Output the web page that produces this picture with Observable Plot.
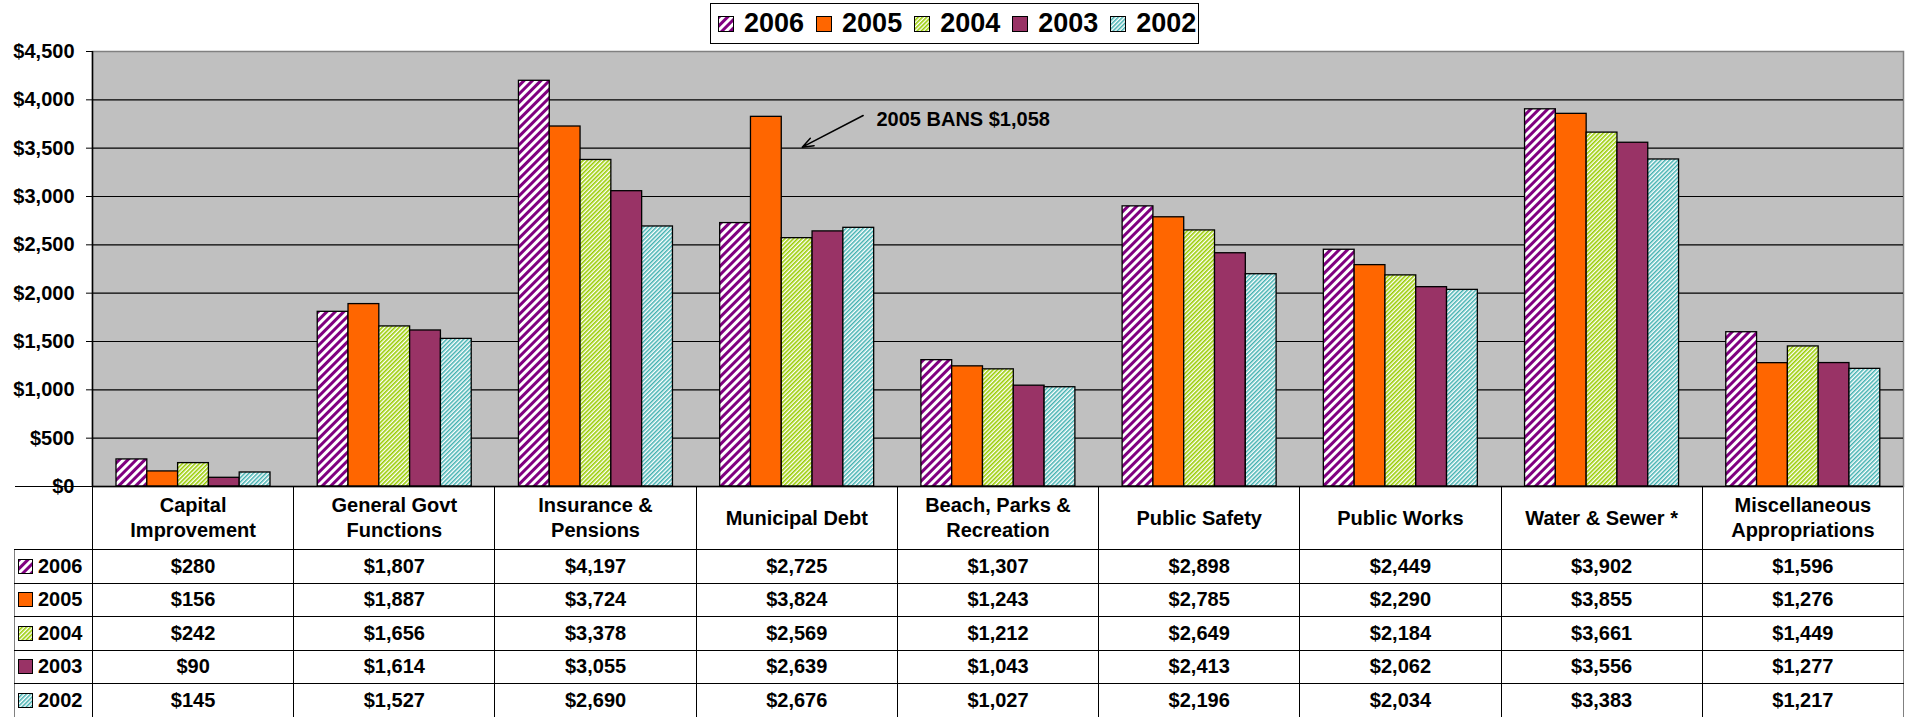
<!DOCTYPE html>
<html><head><meta charset="utf-8">
<script src="https://cdn.jsdelivr.net/npm/d3@7"></script>
<script src="https://cdn.jsdelivr.net/npm/@observablehq/plot@0.6"></script>
<style>
body{margin:0;background:#fff;font-family:"Liberation Sans",Arial,sans-serif;font-weight:bold;color:#000}
#wrap{position:relative;width:1908px;height:717px;overflow:hidden}
#chart{position:absolute;left:0;top:0}
#legend{position:absolute;left:710px;top:3px;width:489px;height:41px;border:1px solid #000;box-sizing:border-box;display:flex;align-items:center;padding-left:7px;background:#fff}
#legend .it{display:flex;align-items:center;margin-right:12px;font-size:27px;line-height:1}
#legend .it svg{margin-right:10px}
#tbl{position:absolute;left:14px;top:486px;border-collapse:collapse;table-layout:fixed;width:1889px}
#tbl td{border:1px solid #000;text-align:center;padding:0;font-size:20px;font-weight:bold;height:32.5px;white-space:pre-line;line-height:25px}
#tbl tr.hdr td{height:62px;border-top:1px solid #000}
#tbl td.blank{border-top:none;border-left:none;border-bottom:1px solid #000}
#tbl td.yr{text-align:left;padding-left:3px;border-left:1px solid #808080}
#tbl td.yr svg{vertical-align:-1px;margin-right:5px}
#tbl td:last-child{border-right:1px solid #808080}
</style>
</head><body>
<svg width="0" height="0" style="position:absolute">
  <defs>
    <pattern id="p2006" patternUnits="userSpaceOnUse" width="6" height="6" patternTransform="rotate(45)">
      <rect width="6" height="6" fill="#fff"/><rect width="3" height="6" fill="#800080"/>
    </pattern>
    <pattern id="p2004" patternUnits="userSpaceOnUse" width="3" height="3" patternTransform="rotate(45)">
      <rect width="3" height="3" fill="#fff"/><rect width="1.6" height="3" fill="#99cc00"/>
    </pattern>
    <pattern id="p2002" patternUnits="userSpaceOnUse" width="3" height="3" patternTransform="rotate(45)">
      <rect width="3" height="3" fill="#fff"/><rect width="1.5" height="3" fill="#40b0b0"/>
    </pattern>
  </defs>
</svg>
<div id="wrap">
  <div id="chart"></div>
  <div id="legend"></div>
  <table id="tbl"></table>
</div>
<script>
const categories = ["Capital\nImprovement", "General Govt\nFunctions", "Insurance &\nPensions", "Municipal Debt", "Beach, Parks &\nRecreation", "Public Safety", "Public Works", "Water & Sewer *", "Miscellaneous\nAppropriations"];
const years = ["2006", "2005", "2004", "2003", "2002"];
const v2006 = [280, 1807, 4197, 2725, 1307, 2898, 2449, 3902, 1596];
const v2005 = [156, 1887, 3724, 3824, 1243, 2785, 2290, 3855, 1276];
const v2004 = [242, 1656, 3378, 2569, 1212, 2649, 2184, 3661, 1449];
const v2003 = [90, 1614, 3055, 2639, 1043, 2413, 2062, 3556, 1277];
const v2002 = [145, 1527, 2690, 2676, 1027, 2196, 2034, 3383, 1217];
const yTicks = [0, 500, 1000, 1500, 2000, 2500, 3000, 3500, 4000, 4500];
const annotation = [{label: "2005 BANS $1,058", x: 3.896, y: 3800, ax1: 3.83, ay1: 3838, ax2: 3.527, ay2: 3510}];

const series = [v2006, v2005, v2004, v2003, v2002];
const fills = ["url(#p2006)", "#ff6600", "url(#p2004)", "#993366", "url(#p2002)"];

const W = 1908, mL = 92, mR = 5;
const band = (W - mL - mR) / categories.length;
const barW = 30.8, padL = 24;

const barMarks = series.map((vals, j) => Plot.rect(categories, {
  x1: (d, i) => i, x2: (d, i) => i + 1,
  y1: () => 0, y2: (d, i) => vals[i],
  insetLeft: padL + barW * j, insetRight: band - padL - barW * (j + 1),
  fill: fills[j], stroke: "#000", strokeWidth: 1.3
}));

const chart = Plot.plot({
  width: W, height: 497,
  marginLeft: mL, marginRight: mR, marginTop: 51, marginBottom: 11,
  x: {domain: [0, categories.length], axis: null},
  y: {domain: [0, 4500], axis: null},
  style: {fontFamily: "Liberation Sans, Arial, sans-serif", fontSize: "20px", fontWeight: "bold", color: "#000", background: "transparent"},
  marks: [
    Plot.frame({fill: "#c0c0c0", stroke: "#808080", strokeWidth: 1.5}),
    Plot.ruleY(yTicks.filter(t => t > 0 && t < 4500), {stroke: "#000", strokeWidth: 1.2}),
    ...barMarks,
    Plot.ruleY([0], {stroke: "#000", strokeWidth: 1.5}),
    Plot.ruleX([0], {stroke: "#000", strokeWidth: 1.5}),
    Plot.axisY({ticks: yTicks, tickFormat: d3.format("$,"), tickSize: 6, tickPadding: 12, label: null, fontSize: 20, fontWeight: "bold", stroke: "#000"}),
    Plot.arrow(annotation, {x1: "ax1", y1: "ay1", x2: "ax2", y2: "ay2", stroke: "#000", strokeWidth: 1.5, headLength: 12, headAngle: 40}),
    Plot.text(annotation, {x: "x", y: "y", text: "label", textAnchor: "start", fontSize: 20, fontWeight: "bold", fill: "#000"})
  ]
});
document.getElementById("chart").appendChild(chart);

// legend
const sw = f => `<svg width="16" height="16"><rect x="0.5" y="0.5" width="15" height="15" fill="${f}" stroke="#000" stroke-width="1"/></svg>`;
document.getElementById("legend").innerHTML = years.map((y, j) => `<div class="it">${sw(fills[j])}<span>${y}</span></div>`).join("");

// data table
const fmt = d3.format("$,");
const esc = s => s.replace(/&/g, "&amp;");
let html = `<colgroup><col style="width:78px">` + categories.map(() => `<col style="width:${band}px">`).join("") + `</colgroup>`;
html += `<tr class="hdr"><td class="blank"></td>` + categories.map(c => `<td>${esc(c)}</td>`).join("") + `</tr>`;
years.forEach((y, j) => {
  html += `<tr><td class="yr"><svg width="15" height="15"><rect x="0.5" y="0.5" width="14" height="14" fill="${fills[j]}" stroke="#000"/></svg>${y}</td>` +
    series[j].map(v => `<td>${fmt(v)}</td>`).join("") + `</tr>`;
});
document.getElementById("tbl").innerHTML = html;
</script>
</body></html>
